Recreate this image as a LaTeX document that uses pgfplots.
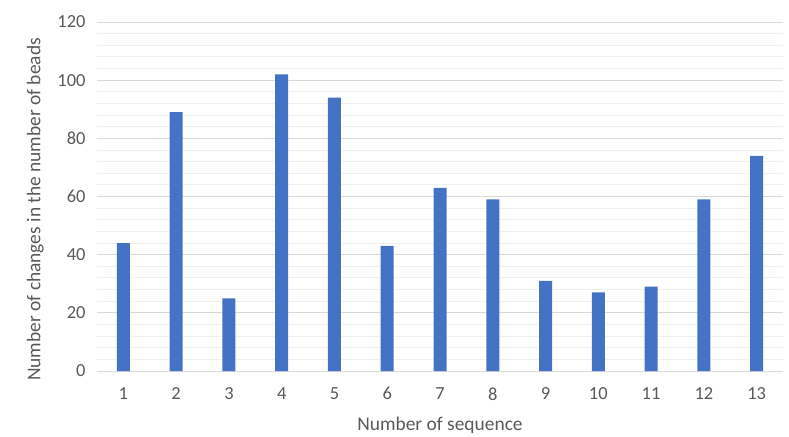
\documentclass[border=0pt]{standalone}
\usepackage{fontspec}
\setmainfont{Carlito}
\usepackage{pgfplots}
\pgfplotsset{compat=1.18}
\definecolor{barblue}{HTML}{4472C4}
\definecolor{txtgray}{HTML}{595959}
\definecolor{majgrid}{HTML}{D9D9D9}
\definecolor{mingrid}{HTML}{F0F0F0}
\begin{document}
\begin{tikzpicture}
\begin{axis}[
    scale only axis,
    width=686bp,
    height=349bp,
    xmin=0.5, xmax=13.5,
    ymin=0, ymax=120,
    xtick={1,...,13},
    ytick={0,20,...,120},
    minor y tick num=4,
    ymajorgrids, yminorgrids,
    major grid style={majgrid, line width=0.9pt},
    minor grid style={mingrid, line width=0.9pt},
    major tick length=0pt, minor tick length=0pt,
    axis x line*=bottom,
    axis y line*=left,
    y axis line style={draw=none},
    x axis line style={majgrid, line width=0.9pt, -},
    tick label style={txtgray, font=\fontsize{18.5}{22}\selectfont},
    /pgf/number format/assume math mode=true,
    xlabel={Number of sequence},
    ylabel={Number of changes in the number of beads},
    label style={txtgray, font=\fontsize{19.5}{23}\selectfont},
    xlabel style={yshift=-10pt},
    ylabel style={yshift=7pt, xshift=-13pt},
    y tick label style={xshift=-8pt},
    x tick label style={yshift=-13pt},
    ybar, bar width=13bp,
]
\addplot[fill=barblue, draw=none] coordinates {
    (1,44) (2,89) (3,25) (4,102) (5,94) (6,43) (7,63)
    (8,59) (9,31) (10,27) (11,29) (12,59) (13,74)
};
\end{axis}
\path[use as bounding box] (current axis.south west) ++(-97bp,-62bp) rectangle ([shift={(6bp,22bp)}]current axis.north east);
\end{tikzpicture}
\end{document}
